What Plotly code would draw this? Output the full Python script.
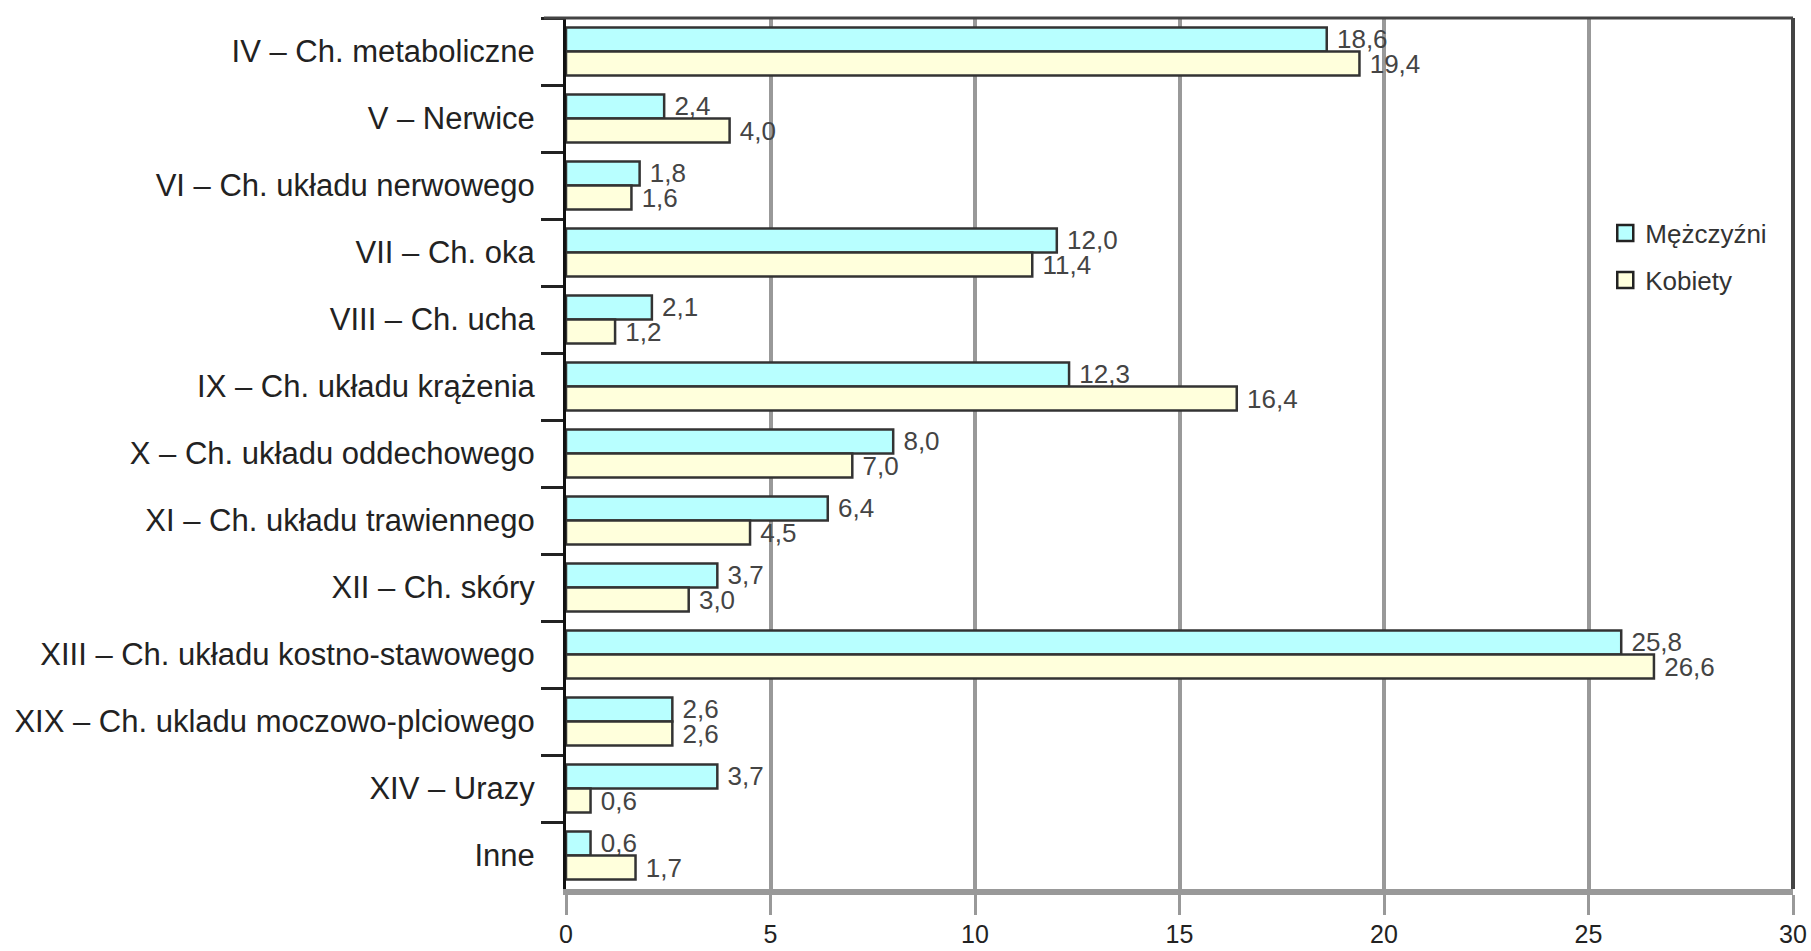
import plotly.graph_objects as go

categories = [
    "IV – Ch. metaboliczne",
    "V – Nerwice",
    "VI – Ch. układu nerwowego",
    "VII – Ch. oka",
    "VIII – Ch. ucha",
    "IX – Ch. układu krążenia",
    "X – Ch. układu oddechowego",
    "XI – Ch. układu trawiennego",
    "XII – Ch. skóry",
    "XIII – Ch. układu kostno-stawowego",
    "XIX – Ch. ukladu moczowo-plciowego",
    "XIV – Urazy",
    "Inne",
]
men = [18.6, 2.4, 1.8, 12.0, 2.1, 12.3, 8.0, 6.4, 3.7, 25.8, 2.6, 3.7, 0.6]
women = [19.4, 4.0, 1.6, 11.4, 1.2, 16.4, 7.0, 4.5, 3.0, 26.6, 2.6, 0.6, 1.7]
series_names = ["Mężczyźni", "Kobiety"]
x_ticks = [0, 5, 10, 15, 20, 25, 30]

MEN_FILL = "#B8FFFF"
WOMEN_FILL = "#FFFFDC"
OUTLINE = "#333333"
FONT = "Liberation Sans, Arial, sans-serif"

fig = go.Figure()
series = [
    (series_names[0], men, MEN_FILL, "legend"),
    (series_names[1], women, WOMEN_FILL, "legend2"),
]
for name, vals, fill, lg in series:
    fig.add_trace(go.Bar(
        y=categories, x=vals, orientation="h", name=name,
        marker=dict(color=fill, line=dict(color=OUTLINE, width=2.5)),
        texttemplate=" %{x:.1f}", textposition="outside", constraintext="none",
        cliponaxis=False,
        textfont=dict(family=FONT, size=26, color="#444444"),
        showlegend=False,
    ))
    # legend entry with a larger square symbol
    fig.add_trace(go.Scatter(
        x=[None], y=[None], mode="markers", name=name, legend=lg,
        marker=dict(symbol="square", size=16, color=fill, line=dict(color="#222222", width=2.5)),
        showlegend=True,
    ))

legend_style = dict(
    xanchor="left", yanchor="top",
    font=dict(family=FONT, size=26, color="#333333"),
    bgcolor="rgba(0,0,0,0)", borderwidth=0,
)

fig.update_layout(
    width=1811, height=951,
    margin=dict(l=566, r=18, t=18, b=62),
    paper_bgcolor="white", plot_bgcolor="white",
    barmode="group", bargap=0.28, bargroupgap=0.0,
    separators=", ",
    font=dict(family=FONT, color="#222222"),
    legend=dict(x=0.847, y=0.78, **legend_style),
    legend2=dict(x=0.847, y=0.726, **legend_style),
    xaxis=dict(
        range=[0, 30], tickvals=x_ticks, ticktext=[str(t) for t in x_ticks],
        automargin=False,
        showgrid=True, gridcolor="#999999", gridwidth=3.5,
        zeroline=False,
        showline=True, linecolor="#999999", linewidth=6,
        ticks="outside", ticklen=20, tickwidth=3, tickcolor="#999999",
        ticklabelstandoff=-2,
        tickfont=dict(family=FONT, size=25, color="#222222"),
    ),
    yaxis=dict(
        type="category", autorange="reversed",
        automargin=False,
        showgrid=False, zeroline=False,
        showline=True, linecolor="#111111", linewidth=3,
        ticks="outside", tickson="boundaries", ticklen=22, tickwidth=3, tickcolor="#222222",
        ticklabelstandoff=22,
        tickfont=dict(family=FONT, size=31, color="#222222"),
    ),
    shapes=[
        dict(type="line", xref="paper", yref="paper", x0=-0.018, x1=1.0, y0=1, y1=1,
             line=dict(color="#444444", width=3)),
        dict(type="line", xref="paper", yref="paper", x0=1.0, x1=1.0, y0=0, y1=1,
             line=dict(color="#444444", width=4)),
    ],
)

fig.write_html("out.html")
